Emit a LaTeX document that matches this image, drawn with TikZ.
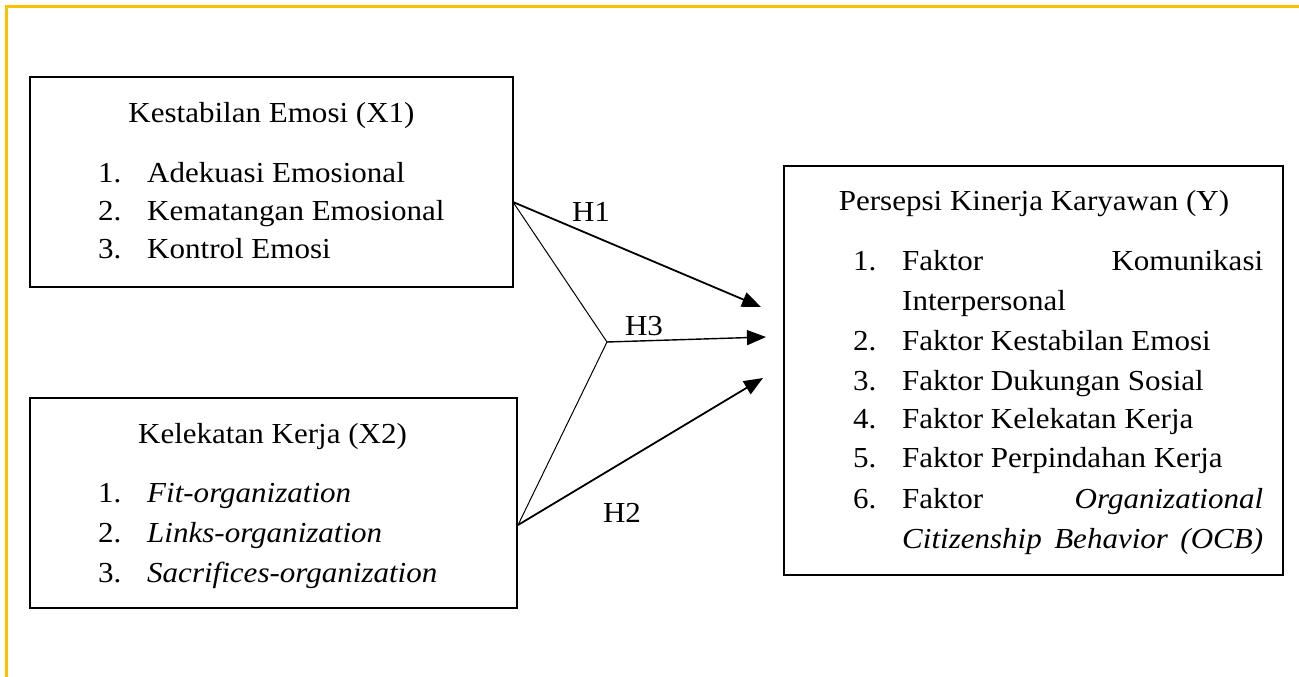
\documentclass[tikz,border=0pt]{standalone}
\usepackage{fontspec}
\setmainfont{Liberation Serif}[FakeStretch=1.07]
\usetikzlibrary{arrows.meta}
\definecolor{gold}{RGB}{255,192,0}
\begin{document}
\begin{tikzpicture}[x=1pt,y=-1pt,
  box/.style={draw,line width=1.8pt,rectangle,inner sep=0pt},
  txt/.style={anchor=base west,inner sep=0pt,font=\fontsize{29}{34}\selectfont},
  ttl/.style={anchor=base,inner sep=0pt,font=\fontsize{29}{34}\selectfont},
  arrow/.style={line width=1.8pt,-{Triangle[length=19pt,width=15pt]}},
  thinline/.style={line width=1pt}]
\useasboundingbox (0,0) rectangle (1299,677);
% gold border
\draw[gold,line width=3pt] (6,677) -- (6,7) -- (1299,7);
% boxes
\node[box,minimum width=483pt,minimum height=210pt] (x1) at (271.5,182) {};
\node[box,minimum width=487pt,minimum height=210pt] (x2) at (273.5,503) {};
\node[box,minimum width=499pt,minimum height=409pt] (y) at (1033.5,370.5) {};
% X1 text
\node[ttl] (x1t) at (271.5,122) {Kestabilan Emosi (X1)};
\node[txt] (x1n1) at (98,182) {1.};
\node[txt] (x1i1) at (147,182) {Adekuasi Emosional};
\node[txt] (x1n2) at (98,220) {2.};
\node[txt] (x1i2) at (147,220) {Kematangan Emosional};
\node[txt] (x1n3) at (98,258) {3.};
\node[txt] (x1i3) at (147,258) {Kontrol Emosi};
% X2 text
\node[ttl] (x2t) at (272.5,443) {Kelekatan Kerja (X2)};
\node[txt] (x2n1) at (98,502) {1.};
\node[txt] (x2i1) at (147,502) {\itshape Fit-organization};
\node[txt] (x2n2) at (98,542) {2.};
\node[txt] (x2i2) at (147,542) {\itshape Links-organization};
\node[txt] (x2n3) at (98,582) {3.};
\node[txt] (x2i3) at (147,582) {\itshape Sacrifices-organization};
% Y text
\node[ttl] (yt) at (1034,210) {Persepsi Kinerja Karyawan (Y)};
\node[txt] (yn1) at (853,270) {1.};
\node[txt] (yi1) at (902,270) {\makebox[361pt][l]{Faktor\hfill Komunikasi}};
\node[txt] (yi1b) at (902,310) {Interpersonal};
\node[txt] (yn2) at (853,350) {2.};
\node[txt] (yi2) at (902,350) {Faktor Kestabilan Emosi};
\node[txt] (yn3) at (853,390) {3.};
\node[txt] (yi3) at (902,390) {Faktor Dukungan Sosial};
\node[txt] (yn4) at (853,428) {4.};
\node[txt] (yi4) at (902,428) {Faktor Kelekatan Kerja};
\node[txt] (yn5) at (853,467) {5.};
\node[txt] (yi5) at (902,467) {Faktor Perpindahan Kerja};
\node[txt] (yn6) at (853,508) {6.};
\node[txt] (yi6) at (902,508) {\makebox[361pt][l]{Faktor\hfill\textit{Organizational}}};
\node[txt] (yi6b) at (902,548) {\makebox[361pt][s]{\itshape Citizenship Behavior (OCB)}};
% connector points
\coordinate (s1) at (513,202);
\coordinate (s2) at (518,525);
\coordinate (j) at (607,342);
\coordinate (t1) at (761,307);
\coordinate (t3) at (766,337);
\coordinate (t2) at (763,378);
% connectors
\draw[thinline] (s1) -- (j) -- (s2);
\draw[arrow] (s1) -- (t1);
\draw[arrow,line width=1.4pt] (j) -- (t3);
\draw[arrow] (s2) -- (t2);
% labels
\node[ttl] (h1) at (591,221) {H1};
\node[ttl] (h3) at (644,335) {H3};
\node[ttl] (h2) at (622,522) {H2};
\end{tikzpicture}
\end{document}
